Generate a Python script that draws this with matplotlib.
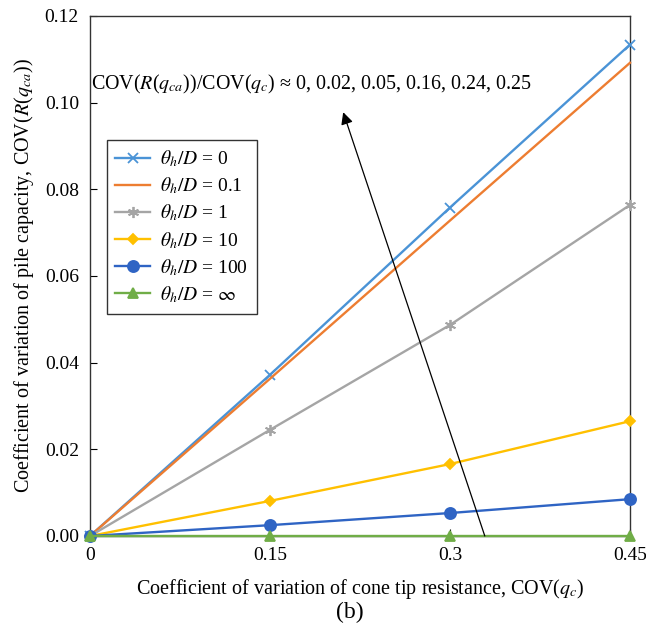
import numpy as np
import matplotlib
matplotlib.use("Agg")
import matplotlib.pyplot as plt

plt.rcParams['font.family'] = ['Liberation Serif', 'DejaVu Serif']
plt.rcParams['mathtext.fontset'] = 'stix'

# data
cov_qc = [0, 0.15, 0.3, 0.45]
labels = [r'$\theta_h/D$ = 0', r'$\theta_h/D$ = 0.1', r'$\theta_h/D$ = 1',
          r'$\theta_h/D$ = 10', r'$\theta_h/D$ = 100', r'$\theta_h/D$ = $\infty$']
cov_r_0 = [0, 0.0372, 0.0758, 0.1134]
cov_r_01 = [0, 0.0363, 0.0728, 0.1092]
cov_r_1 = [0, 0.0245, 0.0487, 0.0764]
cov_r_10 = [0, 0.0081, 0.0166, 0.0265]
cov_r_100 = [0, 0.0025, 0.0053, 0.0085]
cov_r_inf = [0, 0, 0, 0]

series = [cov_r_0, cov_r_01, cov_r_1, cov_r_10, cov_r_100, cov_r_inf]
colors = ['#4A93D6', '#ED7D31', '#A5A5A5', '#FFC000', '#2F64C4', '#70AD47']
markers = ['x', None, (6, 2, 0), 'D', 'o', '^']
msizes = [7, 0, 8, 5, 8, 7]

fig = plt.figure(figsize=(6.46, 6.34), dpi=100)
ax = fig.add_axes([90/646, 98/634, 540/646, 520/634])

for y, lab, c, m, ms in zip(series, labels, colors, markers, msizes):
    ax.plot(cov_qc, y, color=c, lw=1.7, marker=m, markersize=ms,
            markeredgewidth=1.3, label=lab, clip_on=False, zorder=3)

ax.set_xlim(0, 0.45)
ax.set_ylim(0, 0.12)
ax.set_xticks(cov_qc)
ax.set_xticklabels(['0', '0.15', '0.3', '0.45'])
ax.set_yticks(np.arange(0, 0.121, 0.02))
ax.set_yticklabels(['%.2f' % v for v in np.arange(0, 0.121, 0.02)])
ax.tick_params(direction='in', labelsize=14, length=5, pad=8)
for s in ax.spines.values():
    s.set_color('#333333')
    s.set_linewidth(1.0)

ax.set_xlabel(r'Coefficient of variation of cone tip resistance, COV($q_c$)',
              fontsize=14.5, labelpad=9)
ax.set_ylabel(r'Coefficient of variation of pile capacity, COV($R$($q_{ca}$))',
              fontsize=14.5, labelpad=6)

# arrow and annotation
ax.annotate('', xy=(0.211, 0.0978), xytext=(0.329, 0.0),
            arrowprops=dict(arrowstyle='-|>', color='black', lw=0.9,
                            mutation_scale=18, shrinkA=0, shrinkB=0),
            zorder=4)
ax.text(0.001, 0.1043, r'COV($R$($q_{ca}$))/COV($q_c$) ≈ 0, 0.02, 0.05, 0.16, 0.24, 0.25',
        fontsize=14.4, va='center', ha='left', zorder=5)

leg = ax.legend(loc='upper left', bbox_to_anchor=(0.031, 0.762), borderaxespad=0,
                fontsize=14, frameon=True, fancybox=False, edgecolor='black',
                handlelength=1.8, handletextpad=0.5, borderpad=0.45,
                labelspacing=0.33)
leg.get_frame().set_linewidth(1.0)

fig.text(350/646, 22/634, '(b)', fontsize=17, ha='center', va='center')

fig.savefig('out.png', dpi=100)
